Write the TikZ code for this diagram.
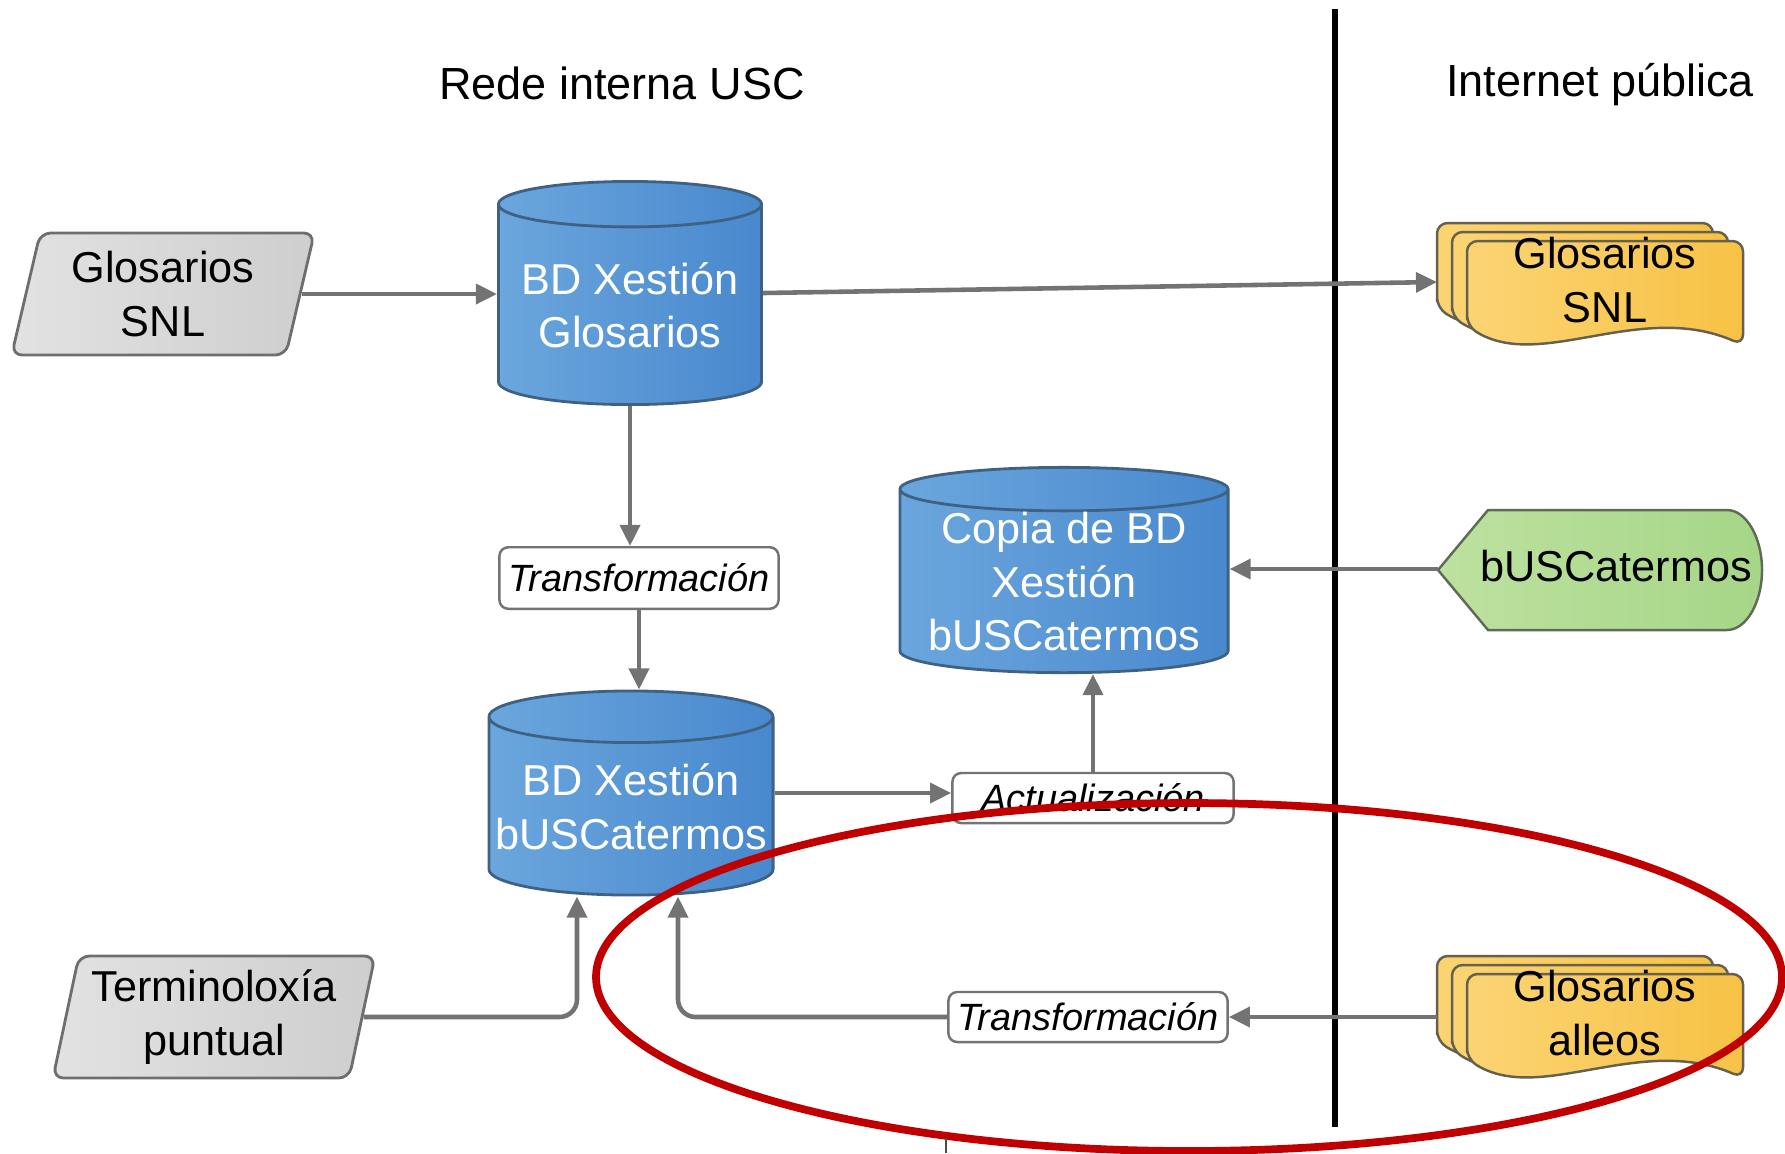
\documentclass[tikz,border=0pt]{standalone}
\usepackage{fontspec}
\setmainfont{Liberation Sans}
\usetikzlibrary{shapes.geometric,arrows.meta,calc,positioning}

\definecolor{flowgray}{HTML}{737373}
\definecolor{dbA}{HTML}{6BA6DD}
\definecolor{dbB}{HTML}{4888CD}
\definecolor{dbline}{HTML}{3E6184}
\definecolor{paraA}{HTML}{E2E2E2}
\definecolor{paraB}{HTML}{CECECE}
\definecolor{paraline}{HTML}{6E6E6E}
\definecolor{docA}{HTML}{FBD473}
\definecolor{docB}{HTML}{F7C245}
\definecolor{docline}{HTML}{66604F}
\definecolor{dispA}{HTML}{BDE1A0}
\definecolor{dispB}{HTML}{A6D687}
\definecolor{displine}{HTML}{5E6B57}
\definecolor{markred}{HTML}{C00000}

\newcommand{\boxfont}{\fontsize{12.3}{15.2}\selectfont}
\newcommand{\procfont}{\fontsize{10.8}{13}\selectfont\itshape}

\tikzstyle{heading} = [font=\fontsize{12.8}{15}\selectfont, inner sep=0pt]
\tikzstyle{db} = [cylinder, shape border rotate=90, anchor=shape center, draw=dbline, line width=0.8pt, left color=dbA, right color=dbB, text=white, align=center, inner sep=0pt, font=\boxfont]
\tikzstyle{para} = [trapezium, trapezium left angle=76, trapezium right angle=104, trapezium stretches=true, draw=paraline, line width=0.8pt, left color=paraA, right color=paraB, rounded corners=3pt, align=center, inner sep=0pt, font=\boxfont]
\tikzstyle{proc} = [rectangle, draw=flowgray, line width=0.7pt, fill=white, rounded corners=2.5pt, inner sep=0pt, font=\procfont]
\tikzstyle{doctext} = [align=center, inner sep=0pt, font=\boxfont]
\tikzstyle{docsheet} = [draw=docline, line width=0.7pt, left color=docA, right color=docB, rounded corners=3pt]
\tikzstyle{display} = [draw=displine, line width=0.7pt, left color=dispA, right color=dispB]
\tikzstyle{flow} = [draw=flowgray, line width=1.3pt, -{Triangle[length=6pt,width=5.6pt]}]

% three stacked sheets, #1 = centre of the front one
\newcommand{\docstack}[1]{%
  \foreach \dx/\dy in {-30/-18,-15/-9,0/0}{
    \filldraw[docsheet, shift={($(#1)+(\dx,\dy)$)}] (-138,43) -- (-138,-42) -- (138,-42) -- (138,62)
      .. controls (35,17) and (-65,89) .. cycle;
  }}

\begin{document}
\begin{tikzpicture}[x=0.01cm,y=-0.01cm]
\useasboundingbox (0,0) rectangle (1785,1153);

\node[heading] (usc) at (622,83) {Rede interna USC};
\node[heading] (inet) at (1600,85) {Internet pública};

% network border
\coordinate (sepT) at (1335,9);
\coordinate (sepB) at (1335,1127);
\draw[line width=1.7pt] (sepT) -- (sepB);

% inputs
\node[para, minimum width=3.03cm, minimum height=1.22cm] (glsnl) at (163,294) {Glosarios\\SNL};
\node[para, minimum width=3.23cm, minimum height=1.22cm] (term) at (214,1017) {Terminoloxía\\puntual};

% databases
\node[db, minimum width=2.63cm, minimum height=2.23cm, aspect=0.21] (bdgl) at (630,293) {BD Xestión\\Glosarios};
\node[db, minimum width=2.84cm, minimum height=2.04cm, aspect=0.19] (bdbusc) at (631,793) {BD Xestión\\bUSCatermos};
\node[db, minimum width=3.28cm, minimum height=2.03cm, aspect=0.16] (copia) at (1064,570) {Copia de BD\\Xestión\\bUSCatermos};

% processes
\node[proc, minimum width=2.79cm, minimum height=0.615cm] (tr1) at (639,578) {Transformación};
\node[proc, minimum width=2.81cm, minimum height=0.5cm] (act) at (1093,798) {Actualización};
\node[proc, minimum width=2.79cm, minimum height=0.5cm] (tr2) at (1088,1017) {Transformación};

% public side
\coordinate (webgl-c) at (1605,283);
\docstack{webgl-c}
\node[doctext] (webgl) at (1605,280) {Glosarios\\SNL};
\coordinate (webgl-in) at (1437,282);

\coordinate (busca-c) at (1600,570);
\filldraw[display, shift={(busca-c)}] (-162,0) -- (-112,-60) -- (127,-60)
  .. controls (146,-60) and (162,-33) .. (162,0)
  .. controls (162,33) and (146,60) .. (127,60) -- (-112,60) -- cycle;
\node[doctext] (busca) at (1616,566) {bUSCatermos};
\coordinate (busca-tip) at (1438,569);

\coordinate (alleos-c) at (1605,1016);
\docstack{alleos-c}
\node[doctext] (alleos) at (1605,1013) {Glosarios\\alleos};
\coordinate (alleos-in) at (1437,1017);

% connectors
\draw[flow] (glsnl.east) -- (glsnl.east -| bdgl.west);
\draw[flow] (bdgl.shape center -| bdgl.east) -- (webgl-in);
\draw[flow] (bdgl.south) -- (bdgl.south |- tr1.north);
\draw[flow] (tr1.south) -- (tr1.south |- bdbusc.north);
\draw[flow] (bdbusc.shape center -| bdbusc.east) -- (bdbusc.shape center -| act.west);
\draw[flow] (act.north) -- (act.north |- copia.south);
\draw[flow] (busca-tip) -- (busca-tip -| copia.east);
\draw[flow] (alleos-in) -- (alleos-in -| tr2.east);
\draw[flow, rounded corners=5pt] (tr2.west) -| ($(bdbusc.south)+(47,0)$);
\draw[flow, rounded corners=5pt] (term.east) -| ($(bdbusc.south)+(-54,0)$);

% highlight
\draw[markred, line width=2.2pt] (1189,977) ellipse [x radius=593, y radius=174];
\coordinate (tickT) at (946,1138);
\coordinate (tickB) at (946,1153);
\draw[black!70, line width=0.5pt] (tickT) -- (tickB);
\end{tikzpicture}
\end{document}
